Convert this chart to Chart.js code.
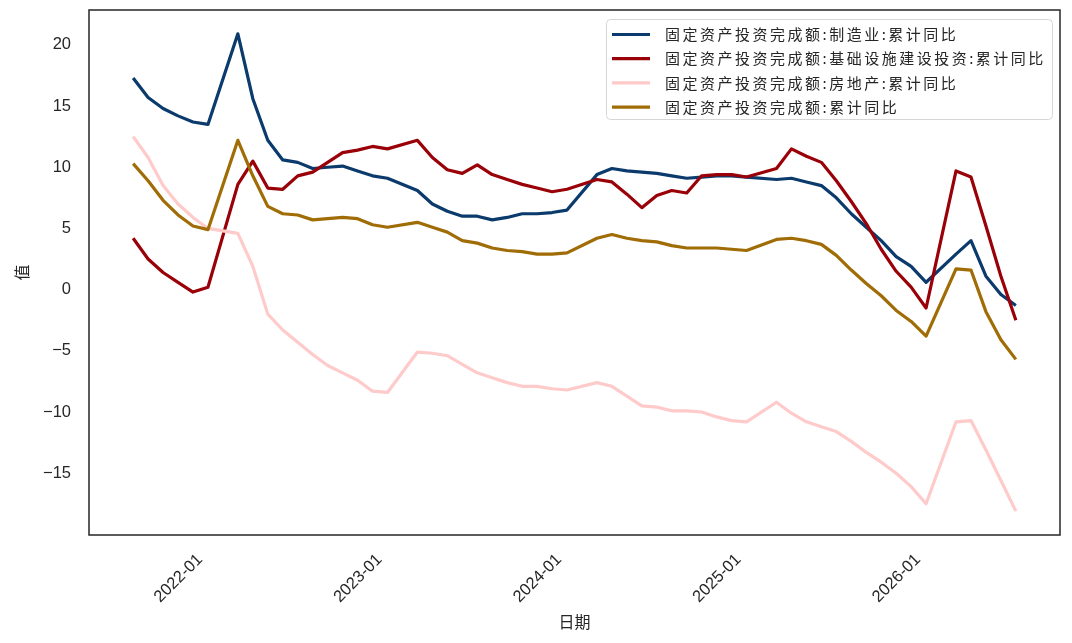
<!DOCTYPE html>
<html><head><meta charset="utf-8">
<script src="https://cdn.jsdelivr.net/npm/chart.js@4.4.1/dist/chart.umd.min.js"></script>
<style>html,body{margin:0;padding:0;background:#fff;overflow:hidden;}#wrap{width:1072px;height:643px;}</style>
</head><body><div id="wrap"><canvas id="c" width="1072" height="643"></canvas></div>
<script>
const months = [
 '2021-07','2021-08','2021-09','2021-10','2021-11','2021-12',
 '2022-02','2022-03','2022-04','2022-05','2022-06','2022-07','2022-08','2022-09','2022-10','2022-11','2022-12',
 '2023-02','2023-03','2023-04','2023-05','2023-06','2023-07','2023-08','2023-09','2023-10','2023-11','2023-12',
 '2024-02','2024-03','2024-04','2024-05','2024-06','2024-07','2024-08','2024-09','2024-10','2024-11','2024-12',
 '2025-02','2025-03','2025-04','2025-05','2025-06','2025-07','2025-08','2025-09','2025-10','2025-11','2025-12',
 '2026-02','2026-03','2026-04','2026-05','2026-06'
];
const seriesNames = [
 '固定资产投资完成额:制造业:累计同比',
 '固定资产投资完成额:基础设施建设投资:累计同比',
 '固定资产投资完成额:房地产:累计同比',
 '固定资产投资完成额:累计同比'
];
const manufacturing = [
 17.3,15.7,14.8,14.2,13.7,13.5,
 20.9,15.6,12.2,10.6,10.4,9.9,10.0,10.1,9.7,9.3,9.1,
 8.1,7.0,6.4,6.0,6.0,5.7,5.9,6.2,6.2,6.3,6.5,
 9.4,9.9,9.7,9.6,9.5,9.3,9.1,9.2,9.3,9.3,9.2,
 9.0,9.1,8.8,8.5,7.5,6.2,5.1,4.0,2.7,1.9,0.6,
 2.9,4.0,1.1,-0.4,-1.3
];
const infrastructure = [
 4.2,2.5,1.4,0.6,-0.2,0.2,
 8.6,10.5,8.3,8.2,9.3,9.6,10.4,11.2,11.4,11.7,11.5,
 12.2,10.8,9.8,9.5,10.2,9.4,9.0,8.6,8.3,8.0,8.2,
 9.0,8.8,7.8,6.7,7.7,8.1,7.9,9.3,9.4,9.4,9.2,
 9.9,11.5,10.9,10.4,8.9,7.2,5.4,3.3,1.5,0.2,-1.5,
 9.7,9.2,5.2,1.1,-2.5
];
const realEstate = [
 12.5,10.8,8.5,7.0,5.9,5.0,
 4.6,1.9,-2.0,-3.3,-4.3,-5.3,-6.2,-6.8,-7.4,-8.3,-8.4,
 -5.1,-5.2,-5.4,-6.1,-6.8,-7.2,-7.6,-7.9,-7.9,-8.1,-8.2,
 -7.6,-7.9,-8.7,-9.5,-9.6,-9.9,-9.9,-10.0,-10.4,-10.7,-10.8,
 -9.2,-10.1,-10.8,-11.2,-11.6,-12.4,-13.3,-14.1,-15.0,-16.1,-17.5,
 -10.8,-10.7,-13.1,-15.6,-18.1
];
const total = [
 10.3,8.9,7.3,6.1,5.2,4.9,
 12.2,9.3,6.8,6.2,6.1,5.7,5.8,5.9,5.8,5.3,5.1,
 5.5,5.1,4.7,4.0,3.8,3.4,3.2,3.1,2.9,2.9,3.0,
 4.2,4.5,4.2,4.0,3.9,3.6,3.4,3.4,3.4,3.3,3.2,
 4.1,4.2,4.0,3.7,2.8,1.6,0.5,-0.5,-1.7,-2.6,-3.8,
 1.7,1.6,-1.8,-4.1,-5.7
];
const xTickLabels = ['2022-01','2023-01','2024-01','2025-01','2026-01'];
const yTickValues = [-15,-10,-5,0,5,10,15,20];
const colors = ['#0b3a6c','#9a0007','#ffcaca','#a06c05'];

// month-end position (end of month M == start of month M+1)
function monthPos(s){const p=s.split('-').map(Number);return (p[0]-2021)*12+p[1];}
function tickPos(s){const p=s.split('-').map(Number);return (p[0]-2021)*12+p[1]-1;}

const allSeries=[manufacturing,infrastructure,realEstate,total];
const xs=months.map(monthPos);
const xMin0=Math.min(...xs), xMax0=Math.max(...xs);
const xm=(xMax0-xMin0)*0.05;
const allY=[].concat(...allSeries);
const yMin0=Math.min(...allY), yMax0=Math.max(...allY);
const ym=(yMax0-yMin0)*0.05;

const datasets=allSeries.map((arr,i)=>({
  label:seriesNames[i],
  data:months.map((m,j)=>({x:monthPos(m),y:arr[j]})),
  borderColor:colors[i],
  backgroundColor:colors[i],
  borderWidth:3.2,
  pointRadius:0,
  tension:0,
  fill:false,
  order:allSeries.length-i,
  borderJoinStyle:'round',
  borderCapStyle:'butt'
}));

const sansFont='"Liberation Sans", Arial, sans-serif';
const cjkFont='"Noto Sans CJK SC", sans-serif';

const framePlugin={
  id:'frame',
  afterDatasetsDraw(chart){
    const {ctx,chartArea:a}=chart;
    ctx.save();
    ctx.strokeStyle='#262626';
    ctx.lineWidth=1.5;
    ctx.strokeRect(a.left,a.top,a.right-a.left,a.bottom-a.top);
    ctx.restore();
  }
};
const legendPlugin={
  id:'legendBox',
  afterDraw(chart){
    const ctx=chart.ctx;
    const bx=606.5,by=19.5,bw=446,bh=100;
    ctx.save();
    ctx.beginPath();
    if(ctx.roundRect){ctx.roundRect(bx,by,bw,bh,4);}else{ctx.rect(bx,by,bw,bh);}
    ctx.fillStyle='rgba(255,255,255,0.85)';
    ctx.fill();
    ctx.strokeStyle='#d6d6d6';
    ctx.lineWidth=1;
    ctx.stroke();
    chart.data.datasets.forEach((ds,i)=>{
      const y=34.5+i*24.2;
      ctx.beginPath();
      ctx.strokeStyle=ds.borderColor;
      ctx.lineWidth=3.2;
      ctx.moveTo(612,y);ctx.lineTo(650,y);
      ctx.stroke();
      ctx.fillStyle='#262626';
      ctx.font='15px '+cjkFont;
      ctx.textBaseline='middle';
      ctx.textAlign='left';
      if('letterSpacing' in ctx) ctx.letterSpacing='2.5px';
      ctx.fillText(ds.label,665,y);
    });
    ctx.restore();
  }
};

new Chart(document.getElementById('c'),{
  type:'line',
  data:{datasets},
  options:{
    responsive:false,
    animation:false,
    devicePixelRatio:1,
    layout:{padding:{top:10,right:12,left:0,bottom:0}},
    plugins:{legend:{display:false},tooltip:{enabled:false}},
    scales:{
      x:{
        type:'linear',
        min:xMin0-xm,max:xMax0+xm,
        afterBuildTicks(axis){axis.ticks=xTickLabels.map(l=>({value:tickPos(l)}));},
        afterFit(s){s.height=108;s.paddingLeft=0;s.paddingRight=0;s.paddingTop=0;s.paddingBottom=0;},
        grid:{display:false,drawTicks:false},
        border:{display:false},
        ticks:{
          autoSkip:false,
          minRotation:45,maxRotation:45,
          padding:15,
          labelOffset:-8,
          color:'#262626',
          font:{family:sansFont,size:16.5},
          callback(v){const i=xTickLabels.findIndex(l=>tickPos(l)===v);return i>=0?xTickLabels[i]:'';}
        },
        title:{display:true,text:'日期',color:'#262626',font:{family:cjkFont,size:16},padding:{top:0,bottom:11}}
      },
      y:{
        type:'linear',
        min:yMin0-ym,max:yMax0+ym,
        afterBuildTicks(axis){axis.ticks=yTickValues.map(v=>({value:v}));},
        afterFit(s){s.width=89;s.paddingLeft=0;s.paddingRight=0;s.paddingTop=0;s.paddingBottom=0;},
        grid:{display:false,drawTicks:false},
        border:{display:false},
        ticks:{
          padding:18,
          color:'#262626',
          font:{family:sansFont,size:16.5},
          callback(v){return v<0?'\u2212'+Math.abs(v):String(v);}
        },
        title:{display:true,text:'值',color:'#262626',font:{family:cjkFont,size:16},padding:{top:12,bottom:0}}
      }
    }
  },
  plugins:[framePlugin,legendPlugin]
});
</script></body></html>
